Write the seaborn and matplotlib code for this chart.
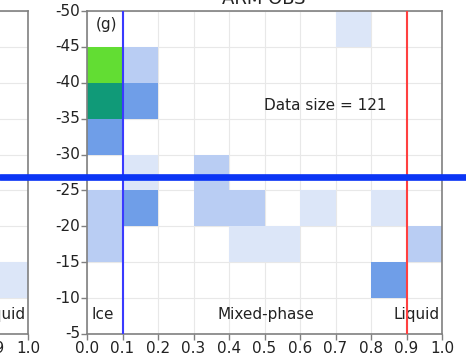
import numpy as np
import pandas as pd
import seaborn as sns
import matplotlib
matplotlib.use("Agg")
import matplotlib.pyplot as plt
from matplotlib.colors import ListedColormap, BoundaryNorm
from matplotlib.lines import Line2D

# ---- data ----
x_tick_labels = ["0.0", "0.1", "0.2", "0.3", "0.4", "0.5", "0.6", "0.7", "0.8", "0.9", "1.0"]
y_tick_labels = ["-50", "-45", "-40", "-35", "-30", "-25", "-20", "-15", "-10", "-5"]
x_bins = ["0.0-0.1", "0.1-0.2", "0.2-0.3", "0.3-0.4", "0.4-0.5",
          "0.5-0.6", "0.6-0.7", "0.7-0.8", "0.8-0.9", "0.9-1.0"]
y_bins = ["-50..-45", "-45..-40", "-40..-35", "-35..-30", "-30..-25",
          "-25..-20", "-20..-15", "-15..-10", "-10..-5"]

# counts, rows from top (-50) to bottom (-5)
counts_g = [
    [0, 0, 0, 0, 0, 0, 0, 1, 0, 0],
    [50, 2, 0, 0, 0, 0, 0, 0, 0, 0],
    [35, 4, 0, 0, 0, 0, 0, 0, 0, 0],
    [4, 0, 0, 0, 0, 0, 0, 0, 0, 0],
    [0, 1, 0, 2, 0, 0, 0, 0, 0, 0],
    [2, 4, 0, 2, 2, 0, 1, 0, 1, 0],
    [2, 0, 0, 0, 1, 1, 0, 0, 0, 2],
    [0, 0, 0, 0, 0, 0, 0, 0, 4, 0],
    [0, 0, 0, 0, 0, 0, 0, 0, 0, 0],
]
# neighbouring panel (only its right edge is visible)
counts_f = [
    [0, 0, 0, 0, 0, 0, 0, 0, 0, 0],
    [0, 0, 0, 0, 0, 0, 0, 0, 0, 0],
    [0, 0, 0, 0, 0, 0, 0, 0, 0, 0],
    [0, 0, 0, 0, 0, 0, 0, 0, 0, 0],
    [0, 0, 0, 0, 0, 0, 0, 0, 0, 0],
    [0, 0, 0, 0, 0, 0, 0, 0, 0, 0],
    [0, 0, 0, 0, 0, 0, 0, 0, 0, 0],
    [0, 0, 0, 0, 0, 0, 0, 0, 0, 1],
    [0, 0, 0, 0, 0, 0, 0, 0, 0, 0],
]
data_size = 121
ice_thr_index = 1      # x = 0.1
liq_thr_index = 9      # x = 0.9

level_colors = ["#dce6f8", "#b9cdf3", "#6f9ee8", "#109a78", "#62dd33"]
level_bounds = [0.5, 1.5, 3, 10, 40, 60]

# ---- plotting ----
sns.set_theme(style="ticks")
plt.rcParams["font.family"] = ["DejaVu Sans"]

W, H = 466, 355
fig = plt.figure(figsize=(W / 100, H / 100), dpi=100)

cmap = ListedColormap(level_colors)
norm = BoundaryNorm(level_bounds, cmap.N)

ax_top, ax_bot = 11, 334
ax_h = ax_bot - ax_top
ax_w = 355
main_left = 87
left_right = 28

ax_f = fig.add_axes([(left_right - ax_w) / W, (H - ax_bot) / H, ax_w / W, ax_h / H])
ax_g = fig.add_axes([main_left / W, (H - ax_bot) / H, ax_w / W, ax_h / H])

spine_col = "#808080"
for ax, counts in [(ax_f, counts_f), (ax_g, counts_g)]:
    df = pd.DataFrame(counts, index=y_bins, columns=x_bins)
    sns.heatmap(df, ax=ax, cmap=cmap, norm=norm, mask=(df == 0), cbar=False)
    ax.set_xticks(np.arange(len(x_tick_labels)))
    ax.set_xticklabels(x_tick_labels, rotation=0, fontsize=11)
    ax.set_yticks(np.arange(len(y_tick_labels)))
    ax.set_yticklabels(y_tick_labels, rotation=0, fontsize=11)
    ax.set_xlim(0, 10)
    ax.set_ylim(9, 0)
    ax.set_xlabel("")
    ax.set_ylabel("")
    for s in ax.spines.values():
        s.set_visible(True)
        s.set_color(spine_col)
        s.set_linewidth(1.2)
    ax.tick_params(axis="both", direction="out", length=4, width=1,
                   color=spine_col, labelcolor="#222222", pad=1)
    ax.grid(True, color="#e8e8e8", linewidth=0.8)
    ax.set_axisbelow(True)
    ax.text(9.94, 8.47, "Liquid", ha="right", va="center", fontsize=11, color="#222222")

ax_g.axvline(ice_thr_index, color="#3a3aff", lw=1.5, zorder=3)
ax_g.axvline(liq_thr_index, color="#ff4040", lw=1.5, zorder=3)
ax_g.text(0.25, 0.38, "(g)", ha="left", va="center", fontsize=11, color="#222222")
ax_g.text(5.0, 2.62, f"Data size = {data_size}", ha="left", va="center", fontsize=11, color="#222222")
ax_g.text(0.12, 8.47, "Ice", ha="left", va="center", fontsize=11, color="#222222")
ax_g.text(5.04, 8.47, "Mixed-phase", ha="center", va="center", fontsize=11, color="#222222")

# title of the panel (mostly cut off at the top edge)
fig.text(264 / W, (H - 4) / H, "ARM OBS", ha="center", va="baseline", fontsize=13, color="#222222")

# thick horizontal separator across the whole image
fig.add_artist(Line2D([0, 1], [(H - 176.5) / H] * 2, transform=fig.transFigure,
                      color="#0b35f5", lw=4.8, zorder=10))

fig.savefig("out.png", dpi=100)
